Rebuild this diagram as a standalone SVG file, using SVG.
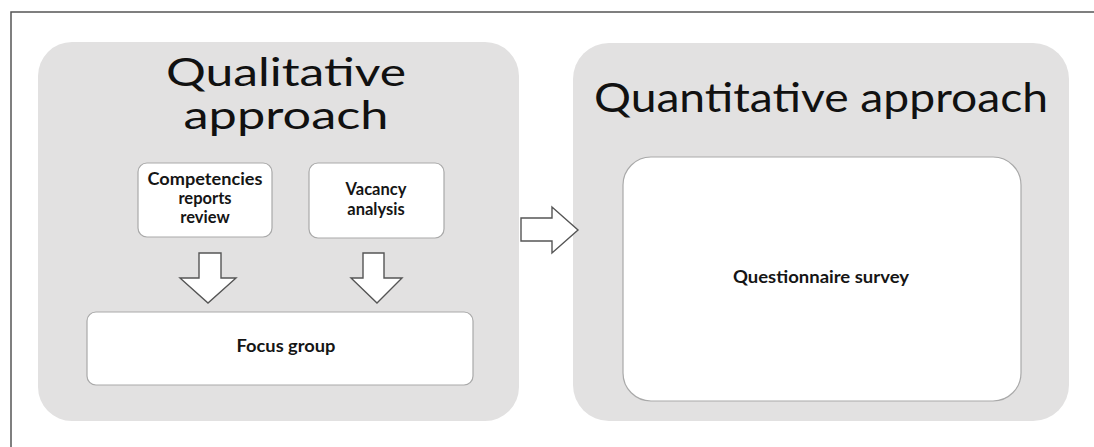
<svg xmlns="http://www.w3.org/2000/svg" width="1094" height="447" viewBox="0 0 1094 447">
  <style>
    .panel { fill: #e2e1e1; }
    .box { fill: #ffffff; stroke: #a9a9a9; stroke-width: 1.2; }
    .arrow { fill: #ffffff; stroke: #555555; stroke-width: 1.4; stroke-linejoin: miter; }
    .title { font-family: Lato, "Liberation Sans", sans-serif; fill: #111111; text-anchor: middle; }
    .label { font-family: Lato, "Liberation Sans", sans-serif; font-weight: bold; font-size: 16.5px; fill: #151515; text-anchor: middle; }
    .frame { stroke: #555555; stroke-width: 1.5; fill: none; }
  </style>

  <rect x="0" y="0" width="1094" height="447" fill="#ffffff"/>
  <!-- outer frame (top and left edges) -->
  <path class="frame" d="M11,447 V12 H1094"/>

  <!-- qualitative panel -->
  <g id="qualitative">
    <rect class="panel" x="38" y="42" width="481" height="379" rx="34"/>
    <text class="title" x="286" y="86" font-size="39" textLength="240" lengthAdjust="spacingAndGlyphs">Qualitative</text>
    <text class="title" x="286" y="129" font-size="39" textLength="205" lengthAdjust="spacingAndGlyphs">approach</text>
  </g>

  <!-- quantitative panel -->
  <g id="quantitative">
    <rect class="panel" x="573" y="43" width="496" height="378" rx="36"/>
    <text class="title" x="821" y="112" font-size="40" textLength="454" lengthAdjust="spacingAndGlyphs">Quantitative approach</text>
  </g>

  <g id="competencies">
    <rect class="box" x="138" y="163" width="134" height="74" rx="9"/>
    <text class="label" x="205" y="185" textLength="115" lengthAdjust="spacingAndGlyphs">Competencies</text>
    <text class="label" x="205" y="204">reports</text>
    <text class="label" x="205" y="223">review</text>
  </g>

  <g id="vacancy">
    <rect class="box" x="309" y="163" width="135" height="75" rx="9"/>
    <text class="label" x="376" y="195">Vacancy</text>
    <text class="label" x="376" y="215">analysis</text>
  </g>

  <g id="focus-group">
    <rect class="box" x="87" y="312" width="386" height="73" rx="9"/>
    <text class="label" x="286" y="352" textLength="99" lengthAdjust="spacingAndGlyphs">Focus group</text>
  </g>

  <g id="questionnaire">
    <rect class="box" x="623" y="157" width="398" height="244" rx="28"/>
    <text class="label" x="821" y="283" textLength="176" lengthAdjust="spacingAndGlyphs">Questionnaire survey</text>
  </g>

  <!-- block arrows between steps -->
  <g id="connectors">
    <path class="arrow" d="M199,253 H221 V278 H236 L208,303 L180,278 H199 Z"/>
    <path class="arrow" d="M363,253 H384 V278 H402 L377,303 L351,278 H363 Z"/>
    <path class="arrow" d="M521,218 H552 V207 L578,230 L552,253 V241 H521 Z"/>
  </g>
</svg>
